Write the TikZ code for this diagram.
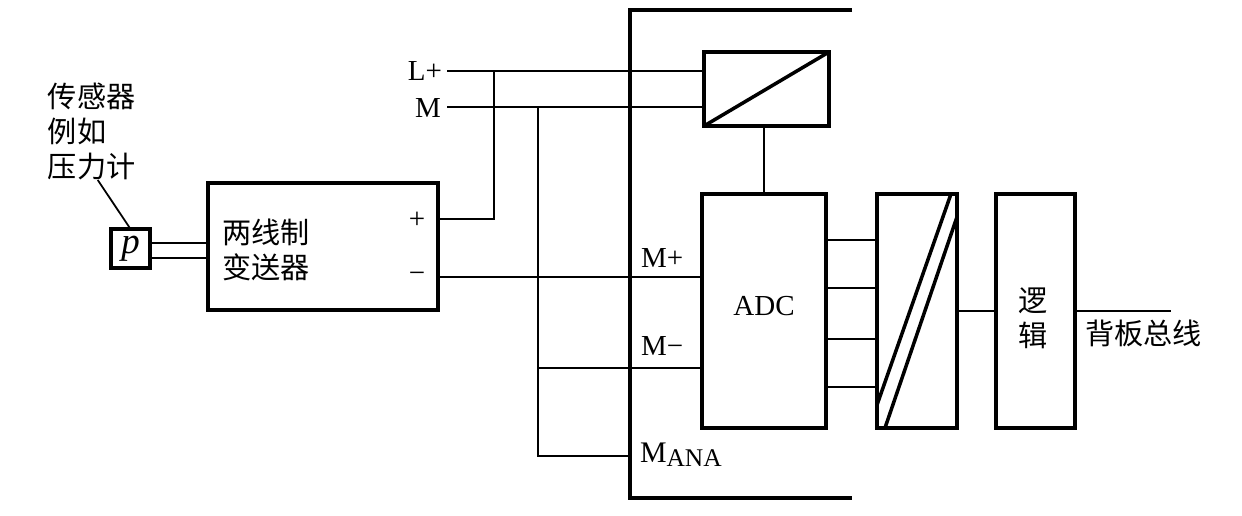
\documentclass[tikz,border=0pt]{standalone}
\usepackage{fontspec}
\setmainfont{Liberation Serif}
\newfontfamily\cjk{Noto Sans CJK SC}
\usetikzlibrary{positioning, calc}

\begin{document}
\begin{tikzpicture}[x=0.02cm, y=-0.02cm,
    every node/.style={font=\fontsize{16.5}{20}\selectfont, inner sep=0pt, outer sep=0pt},
    block/.style={draw, rectangle, line width=2pt},
    wire/.style={line width=1pt},
    heavy/.style={line width=2pt},
    cjktext/.style={font=\cjk\fontsize{16.6}{19.8}\selectfont, align=left}]
      \useasboundingbox (0,0) rectangle (1242,516);

      \node[block, minimum width=0.78cm, minimum height=0.78cm] (p) at (130.5,248.5) {\fontsize{21}{20}\selectfont\textit{p}};
      \node[block, minimum width=4.6cm, minimum height=2.54cm] (xmtr) at (323,246.5) {};
      \node[block, minimum width=2.5cm, minimum height=1.48cm] (power) at (766.5,89) {};
      \node[block, minimum width=2.48cm, minimum height=4.68cm] (adc) at (764,311) {};
      \node[block, minimum width=1.6cm, minimum height=4.68cm] (conv) [right=1.02cm of adc] {};
      \node[block, minimum width=1.58cm, minimum height=4.68cm] (logic) [right=0.78cm of conv] {};

      \node[cjktext, anchor=south west] (sensor) at (48,180) {传感器\\例如\\压力计};
      \node[cjktext, anchor=west] (xmtrtext) at (222,250) {两线制\\变送器};
      \node[cjktext, align=center] (logictext) at (1033,318) {逻\\辑};
      \node[cjktext, anchor=west] (bustext) at (1085,333) {背板总线};
      \node (adctext) at (764,306) {ADC};
      \node[anchor=east] (lplus) at (442,71) {L+};
      \node[anchor=east] (m) at (441,108) {M};
      \node (plus) at (417,220) {+};
      \node (minus) at (417,277) {−};
      \node[anchor=west] (mplus) at (641,258) {M+};
      \node[anchor=west] (mminus) at (641,346) {M−};
      \node[anchor=west] (mana) at (640,455) {\fontsize{17}{20}\selectfont M\raisebox{-0.3ex}{\fontsize{14.5}{20}\selectfont ANA}};

      \coordinate (frametr) at (852,10);
      \coordinate (frametl) at (630,10);
      \coordinate (framebl) at (630,498);
      \coordinate (framebr) at (852,498);
      \coordinate (lstart) at (447,71);
      \coordinate (mstart) at (447,107);
      \coordinate (plustap) at (494,219);
      \coordinate (mtap) at (538,107);
      \coordinate (mminustap) at (538,368);
      \coordinate (manatap) at (538,456);
      \coordinate (busend) at (1171,311);

      \draw[heavy] (frametr) -- (frametl) -- (framebl) -- (framebr);

      \draw[wire] ([xshift=0.12cm]sensor.south) -- (p.north);
      \draw[wire] ([yshift=0.11cm]p.east) -- ([yshift=0.11cm]p.east -| xmtr.west);
      \draw[wire] ([yshift=-0.19cm]p.east) -- ([yshift=-0.19cm]p.east -| xmtr.west);

      \draw[wire] (lstart) -- (lstart -| power.west);
      \draw[wire] (mstart) -- (mstart -| power.west);
      \draw[wire] (xmtr.east |- plustap) -- (plustap) -- (plustap |- lstart);
      \draw[wire] (xmtr.east |- minus) -- (minus -| adc.west);
      \draw[wire] (mtap) -- (manatap) -- (manatap -| framebl);
      \draw[wire] (mminustap) -- (mminustap -| adc.west);

      \draw[wire] (adc.north) -- (adc.north |- power.south);
      \draw[heavy] (power.south west) -- (power.north east);

      \foreach \dy in {1.42, 0.46, -0.56, -1.52}
        \draw[wire] ([yshift=\dy cm]adc.east) -- ([yshift=\dy cm]adc.east -| conv.west);

      \draw[heavy] ([xshift=-0.12cm]conv.north east) -- ([yshift=0.46cm]conv.south west);
      \draw[heavy] ([yshift=-0.46cm]conv.north east) -- ([xshift=0.16cm]conv.south west);

      \draw[wire] (conv.east) -- (logic.west);
      \draw[wire] (logic.east) -- (busend);
\end{tikzpicture}
\end{document}
